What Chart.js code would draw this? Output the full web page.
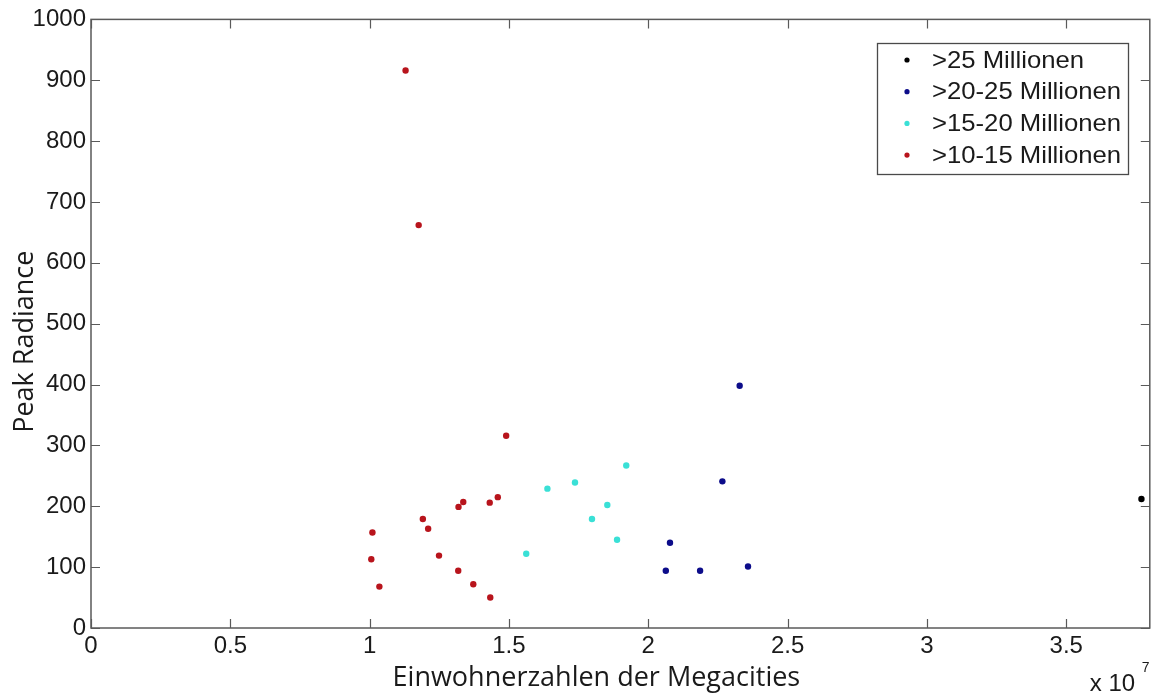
<!DOCTYPE html>
<html>
<head>
<meta charset="utf-8">
<title>Peak Radiance der Megacities</title>
<script src="https://cdn.jsdelivr.net/npm/chart.js@4.4.1/dist/chart.umd.min.js"></script>
<style>
  html, body { margin: 0; padding: 0; background: #fff; }
  #wrap { width: 1153px; height: 695px; }
</style>
</head>
<body>
<div id="wrap"><canvas id="chart" width="1153" height="695"></canvas></div>
<script>
// Einwohner in Millionen, Peak Radiance je Stadt
var seriesLabels = [">25 Millionen", ">20-25 Millionen", ">15-20 Millionen", ">10-15 Millionen"];
var seriesColors = ["#000000", "#0c0c8a", "#3ae0d6", "#b8141c"];

var popOver25 = [37.70];
var radOver25 = [212];

var pop20to25 = [20.63, 20.78, 21.86, 22.66, 23.28, 23.58];
var rad20to25 = [94, 140, 94, 241, 398, 101];

var pop15to20 = [15.62, 16.38, 17.37, 17.98, 18.53, 18.88, 19.21];
var rad15to20 = [122, 229, 239, 179, 202, 145, 267];

var pop10to15 = [11.29, 11.76, 10.10, 10.06, 10.35, 11.91, 12.10, 12.49, 13.19, 13.36, 13.18, 13.72, 14.31, 14.60, 14.33, 14.90];
var rad10to15 = [916, 662, 157, 113, 68, 179, 163, 119, 199, 207, 94, 72, 206, 215, 50, 316];

var xTickValues = [0, 5, 10, 15, 20, 25, 30, 35];
var yTickValues = [0, 100, 200, 300, 400, 500, 600, 700, 800, 900, 1000];

var xTitle = "Einwohnerzahlen der Megacities";
var yTitle = "Peak Radiance";
var xExponent = "x 10";

function punkte(xs, ys){
	var out = [];
	for(var i=0; i<xs.length; i++){
		out.push({x: xs[i], y: ys[i]});
	}
	return out;
}

var tickFamily = "'Liberation Sans', Arial, sans-serif";
var tickFont = "24px " + tickFamily;
var titleFont = "27px 'Open Sans', 'Noto Sans', sans-serif";

// Rahmen, innenliegende Ticks, Achsentitel und Legende
var matlabAxes = {
	id: "matlabAxes",
	afterDraw: function(chart){
		var ctx = chart.ctx;
		var a = chart.chartArea;
		var sx = chart.scales.x, sy = chart.scales.y;
		ctx.save();
		ctx.strokeStyle = "#5a5a5a";
		ctx.lineWidth = 1.5;
		ctx.strokeRect(a.left, a.top, a.right - a.left, a.bottom - a.top);

		ctx.lineWidth = 1.2;
		ctx.beginPath();
		var len = 9;
		xTickValues.forEach(function(v){
			var px = Math.round(sx.getPixelForValue(v)) + 0.5;
			ctx.moveTo(px, a.bottom); ctx.lineTo(px, a.bottom - len);
			ctx.moveTo(px, a.top); ctx.lineTo(px, a.top + len);
		});
		yTickValues.forEach(function(v){
			var py = Math.round(sy.getPixelForValue(v)) + 0.5;
			ctx.moveTo(a.left, py); ctx.lineTo(a.left + len, py);
			ctx.moveTo(a.right, py); ctx.lineTo(a.right - len, py);
		});
		ctx.stroke();

		// Achsentitel
		ctx.fillStyle = "#1a1a1a";
		ctx.font = titleFont;
		ctx.textAlign = "center";
		ctx.textBaseline = "alphabetic";
		ctx.fillText(xTitle, (a.left + a.right) / 2 - 24, a.bottom + 58);
		ctx.save();
		ctx.translate(33, (a.top + a.bottom) / 2 + 18);
		ctx.rotate(-Math.PI / 2);
		ctx.fillText(yTitle, 0, 0);
		ctx.restore();

		// Exponent der x-Achse
		ctx.font = tickFont;
		ctx.textAlign = "left";
		ctx.fillText(xExponent, a.right - 60, a.bottom + 63);
		ctx.font = "14px " + tickFamily;
		ctx.fillText("7", a.right - 8, a.bottom + 44);

		// Legende
		var bx = 877, by = 43, bw = 251, bh = 131;
		ctx.fillStyle = "#ffffff";
		ctx.fillRect(bx, by, bw, bh);
		ctx.strokeStyle = "#4a4a4a";
		ctx.lineWidth = 1.3;
		ctx.strokeRect(bx + 0.5, by + 0.5, bw, bh);
		ctx.font = "24px " + tickFamily;
		ctx.textBaseline = "middle";
		chart.data.datasets.forEach(function(ds, i){
			var ly = by + 17 + i * 31.7;
			ctx.fillStyle = ds.backgroundColor;
			ctx.beginPath();
			ctx.arc(bx + 30, ly, 2.6, 0, Math.PI * 2);
			ctx.fill();
			ctx.fillStyle = "#1a1a1a";
			ctx.save();
			ctx.translate(bx + 55, ly + 1);
			ctx.scale(1.07, 1);
			ctx.fillText(ds.label, 0, 0);
			ctx.restore();
		});
		ctx.restore();
	}
};

var daten = [
	punkte(popOver25, radOver25),
	punkte(pop20to25, rad20to25),
	punkte(pop15to20, rad15to20),
	punkte(pop10to15, rad10to15)
];

var ctx = document.getElementById("chart");
var chartGraph = new Chart(ctx, {
	type: "scatter",
	data: {
		datasets: seriesLabels.map(function(lbl, i){
			return {
				label: lbl,
				data: daten[i],
				backgroundColor: seriesColors[i],
				borderColor: seriesColors[i],
				borderWidth: 0,
				pointRadius: 3.2,
				pointHoverRadius: 3.2
			};
		})
	},
	options: {
		responsive: false,
		animation: false,
		devicePixelRatio: 1,
		layout: { padding: { top: 19, right: 2, left: 0, bottom: 0 } },
		plugins: {
			legend: { display: false },
			tooltip: { enabled: false }
		},
		scales: {
			x: {
				type: "linear",
				min: 0,
				max: 38,
				afterBuildTicks: function(scale){
					scale.ticks = xTickValues.map(function(v){ return {value: v}; });
				},
				afterFit: function(scale){ scale.height = 67; },
				grid: { display: false, drawTicks: false },
				border: { display: false },
				ticks: {
					color: "#1a1a1a",
					padding: 4,
					maxRotation: 0,
					autoSkip: false,
					font: { family: tickFamily, size: 24 },
					callback: function(v){ return String(v / 10); }
				}
			},
			y: {
				type: "linear",
				min: 0,
				max: 1000,
				afterBuildTicks: function(scale){
					scale.ticks = yTickValues.map(function(v){ return {value: v}; });
				},
				afterFit: function(scale){ scale.width = 91; },
				grid: { display: false, drawTicks: false },
				border: { display: false },
				ticks: {
					color: "#1a1a1a",
					padding: 5,
					autoSkip: false,
					font: { family: tickFamily, size: 24 },
					callback: function(v){ return String(v); }
				}
			}
		}
	},
	plugins: [matlabAxes]
});
</script>
</body>
</html>
